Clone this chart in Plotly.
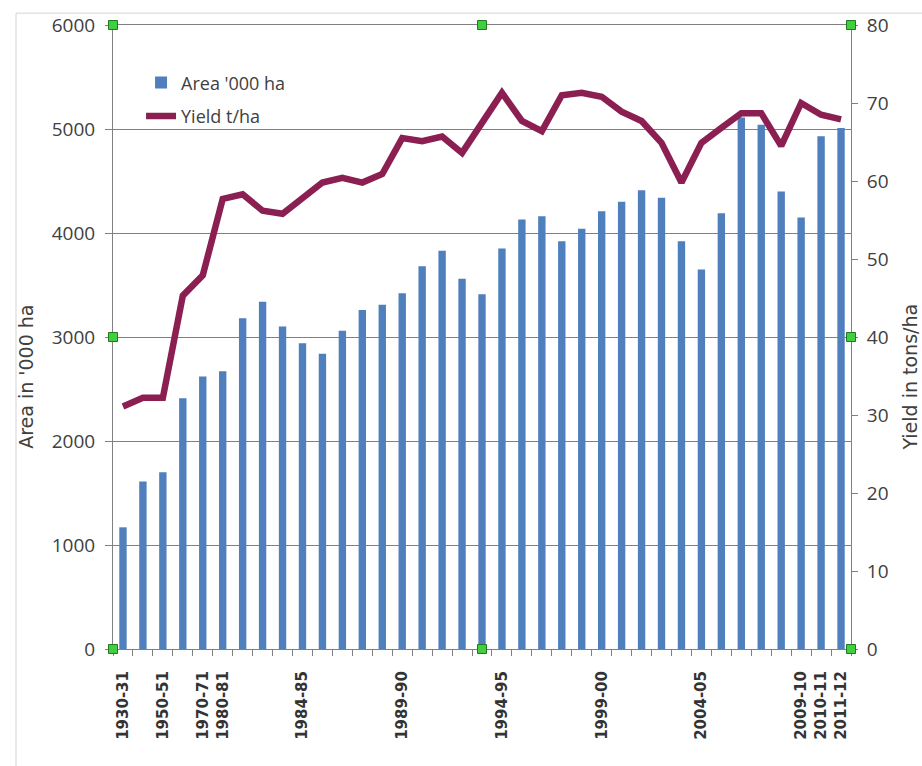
import plotly.graph_objects as go

# Crop seasons (category axis)
seasons = [
    "1930-31", "1940-41", "1950-51", "1960-61", "1970-71",
    "1980-81", "1981-82", "1982-83", "1983-84", "1984-85", "1985-86",
    "1986-87", "1987-88", "1988-89", "1989-90", "1990-91", "1991-92",
    "1992-93", "1993-94", "1994-95", "1995-96", "1996-97", "1997-98",
    "1998-99", "1999-00", "2000-01", "2001-02", "2002-03", "2003-04",
    "2004-05", "2005-06", "2006-07", "2007-08", "2008-09", "2009-10",
    "2010-11", "2011-12",
]

# Seasons that carry a visible tick label
labelled = [
    "1930-31", "1950-51", "1970-71", "1980-81", "1984-85", "1989-90",
    "1994-95", "1999-00", "2004-05", "2009-10", "2010-11", "2011-12",
]

# Area in '000 ha
area = [
    1170, 1610, 1700, 2410, 2620, 2670, 3180, 3340, 3100, 2940, 2840,
    3060, 3260, 3310, 3420, 3680, 3830, 3560, 3410, 3850, 4130, 4160,
    3920, 4040, 4210, 4300, 4410, 4340, 3920, 3650, 4190, 5110, 5040,
    4400, 4150, 4930, 5010,
]

# Yield (right axis)
yield_tha = [
    31.1, 32.2, 32.2, 45.3, 47.9, 57.7, 58.3, 56.2, 55.8, 57.7, 59.8,
    60.4, 59.8, 60.9, 65.5, 65.1, 65.7, 63.6, 67.4, 71.3, 67.7, 66.4,
    71.0, 71.3, 70.8, 68.9, 67.7, 64.9, 59.8, 64.9, 66.8, 68.7, 68.7,
    64.5, 70.0, 68.5, 67.9,
]

BAR_BLUE = "#4f7fbd"
LINE_RED = "#8b1f52"
GRID = "#808080"
TEXT = "#404040"
FONT = "Open Sans"
TITLE_FONT = "DejaVu Sans"

fig = go.Figure()

fig.add_trace(go.Bar(
    x=seasons, y=area, name="Area '000 ha",
    marker=dict(color=BAR_BLUE, line=dict(width=0)),
    width=0.37, legendgroup="area",
))

fig.add_trace(go.Scatter(
    x=seasons, y=yield_tha, name="Yield t/ha", yaxis="y2",
    mode="lines", line=dict(color=LINE_RED, width=6.5),
    legendgroup="yield",
))

ticktext = [s if s in labelled else "" for s in seasons]

fig.update_layout(
    width=922, height=766,
    margin=dict(l=113, r=71, t=21, b=117),
    paper_bgcolor="white", plot_bgcolor="white",
    font=dict(family=FONT, color=TEXT),
    xaxis=dict(
        type="category", tickson="boundaries",
        tickmode="array", tickvals=seasons, ticktext=ticktext,
        tickangle=-90, ticks="outside", ticklen=6, tickcolor=GRID,
        ticklabelstandoff=15,
        tickfont=dict(family="DejaVu Sans", size=15, weight="bold", color="#333333"),
        showgrid=False, showline=True, linecolor=GRID, linewidth=1,
        mirror=True,
    ),
    yaxis=dict(
        range=[0, 6000], dtick=1000, tick0=0,
        showgrid=True, gridcolor=GRID, gridwidth=1.2, zeroline=False,
        showline=True, linecolor=GRID, linewidth=1,
        ticks="outside", ticklen=7, tickcolor=GRID, ticklabelstandoff=6,
        tickfont=dict(family=FONT, size=19, color=TEXT),
    ),
    yaxis2=dict(
        range=[0, 80], dtick=10, tick0=0, overlaying="y", side="right",
        showgrid=False, zeroline=False,
        showline=True, linecolor=GRID, linewidth=1,
        ticks="outside", ticklen=6, tickcolor=GRID, ticklabelstandoff=5,
        tickfont=dict(family=FONT, size=19, color=TEXT),
    ),
    legend=dict(
        x=0.038, y=0.937, xanchor="left", yanchor="top",
        bgcolor="rgba(0,0,0,0)", borderwidth=0,
        font=dict(family=FONT, size=18, color=TEXT),
        traceorder="grouped", tracegroupgap=7,
    ),
    showlegend=True,
    bargap=0.6,
)

# Axis titles
fig.add_annotation(
    text="Area in '000 ha", xref="paper", yref="paper",
    x=-0.118, y=0.436, textangle=-90, showarrow=False,
    xanchor="center", yanchor="middle",
    font=dict(family=TITLE_FONT, size=19, color=TEXT),
)
fig.add_annotation(
    text="Yield in tons/ha", xref="paper", yref="paper",
    x=1.0795, y=0.436, textangle=-90, showarrow=False,
    xanchor="center", yanchor="middle",
    font=dict(family=TITLE_FONT, size=19, color=TEXT),
)

# Light outer frame of the chart area
fig.add_shape(type="line", xref="paper", yref="paper",
              x0=-0.1314, x1=-0.1314, y0=1.019, y1=-0.19,
              line=dict(color="#d4d4d4", width=1), layer="below")
fig.add_shape(type="line", xref="paper", yref="paper",
              x0=-0.1314, x1=1.1, y0=1.019, y1=1.019,
              line=dict(color="#d4d4d4", width=1), layer="below")

# Selection handles around the plot area
for hx, hy in [(0, 1), (0.5, 1), (1, 1), (0, 0.5), (1, 0.5), (0, 0), (0.5, 0), (1, 0)]:
    fig.add_shape(
        type="rect", xref="paper", yref="paper",
        xsizemode="pixel", ysizemode="pixel", xanchor=hx, yanchor=hy,
        x0=-4.5, x1=4.5, y0=-4.5, y1=4.5,
        fillcolor="#3fcf3f", line=dict(color="#1f7a1f", width=1),
        layer="above",
    )

fig.write_html("out.html")
